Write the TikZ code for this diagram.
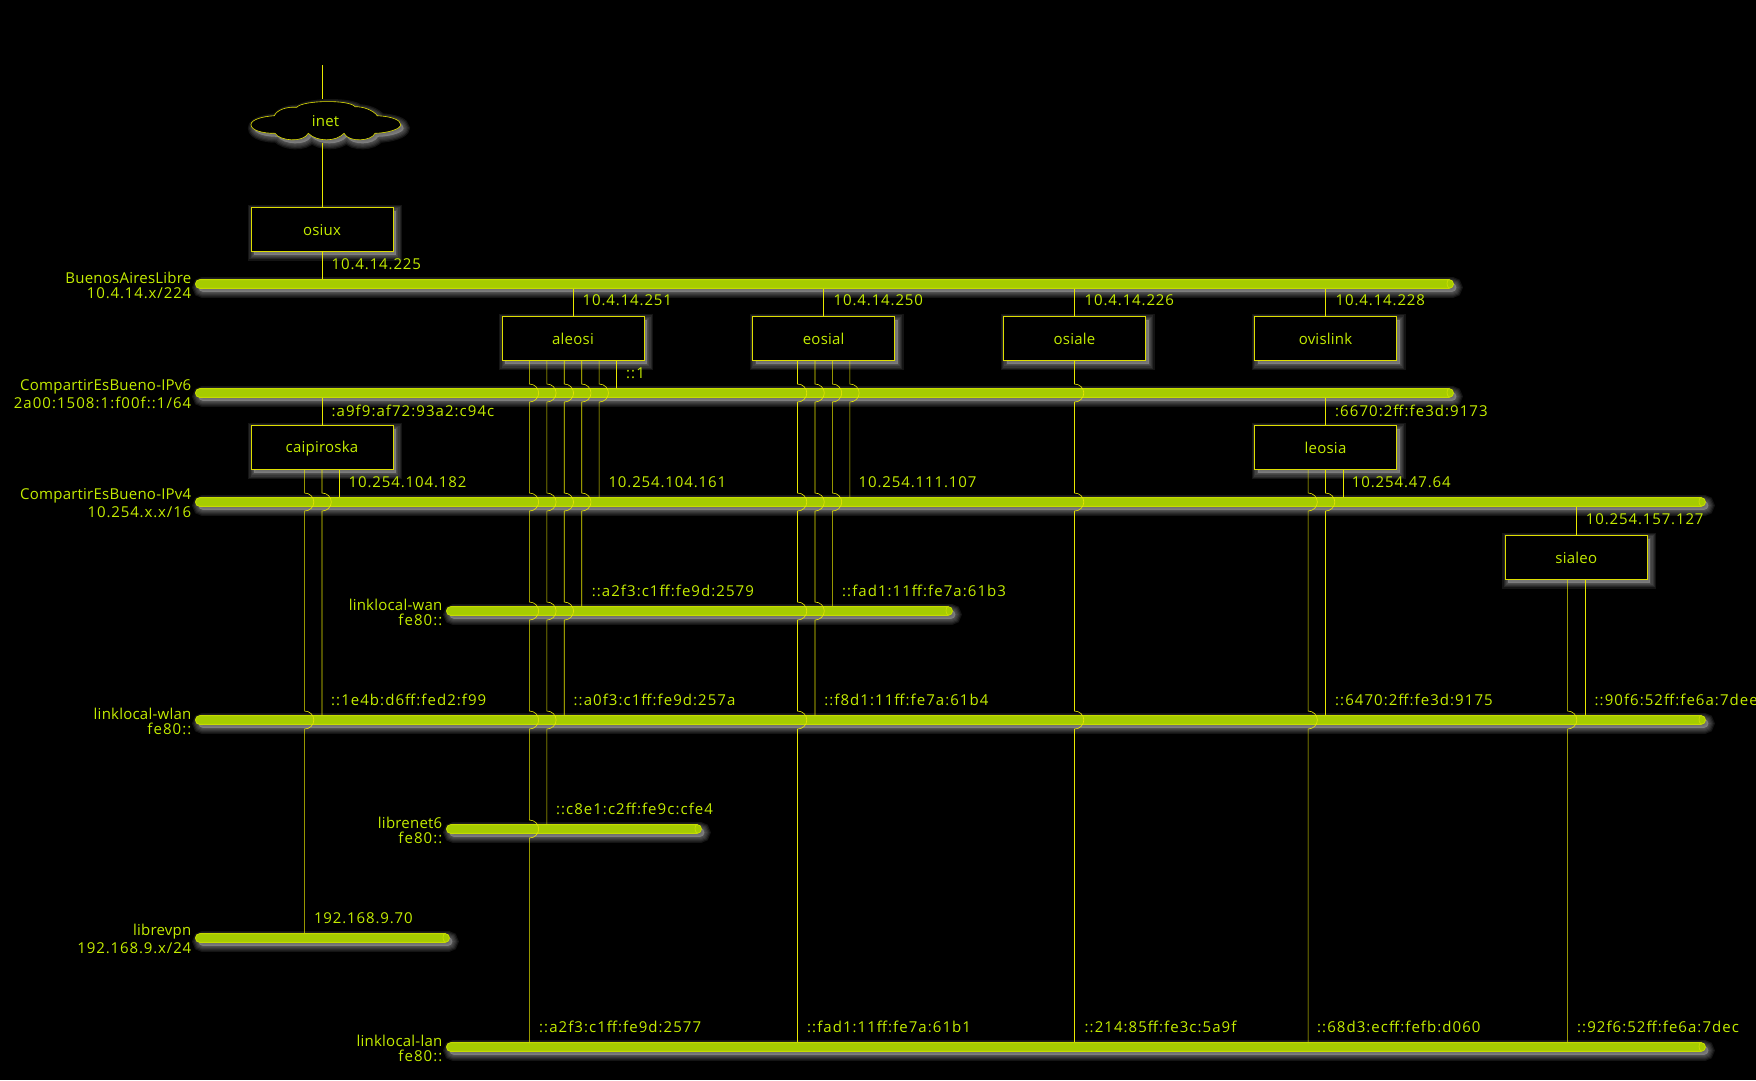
\documentclass[tikz,border=0pt]{standalone}
\usepackage{fontspec}
\setmainfont[LetterSpace=1.5]{Open Sans}
\newfontfamily\addrfont[LetterSpace=7]{Open Sans}
\newfontfamily\dotfont[LetterSpace=5.8]{Open Sans}
\usetikzlibrary{positioning}
\definecolor{barfill}{HTML}{A6CC00}
\definecolor{baredge}{HTML}{C6DC00}
\definecolor{boxedge}{HTML}{DEDE00}
\definecolor{linkcol}{HTML}{E8E800}
\definecolor{textcol}{HTML}{C4EC00}
\definecolor{shadecol}{HTML}{B8B8B8}
\begin{document}
\begin{tikzpicture}[x=1pt,y=-1pt]

\tikzstyle{halo} = [
	preaction={draw=shadecol,fill=shadecol,line width=#1,opacity=.11,transform canvas={shift={(3pt,-3.5pt)}}} ];
\tikzstyle{soft} = [halo=12pt,halo=9.5pt,halo=7pt,halo=4.5pt,halo=2pt];
\tikzstyle{block} = [
	draw=boxedge, fill=black, rectangle, soft, line width=1pt, text=textcol,
	font=\fontsize{15}{15}\selectfont, text height=14pt, text depth=2pt,
	minimum height=44pt, minimum width=142pt ];
\tikzstyle{netbar} = [
	draw=baredge, fill=barfill, rectangle, rounded corners=4.4pt, soft, line width=.9pt,
	inner sep=0pt, minimum height=8.8pt ];
\tikzstyle{netname} = [
	text=textcol, align=right, inner sep=0pt, yshift=-1pt, font=\fontsize{15}{18}\selectfont ];
\tikzstyle{addr} = [
	text=textcol, anchor=base west, inner sep=0pt, font=\fontsize{15}{15}\addrfont ];
\tikzstyle{ip} = [addr, font=\fontsize{15}{15}\dotfont];
\tikzstyle{link} = [draw=linkcol, line width=.6pt];

\def\sz{17.45pt}
% #1 name, #2 left, #3 right, #4 y, #5 text
\def\bus#1#2#3#4#5{
	\node[netbar,minimum width=#3pt-#2pt,anchor=west] (#1) at (#2,#4) {};
	\draw[baredge,line width=.8pt] ([xshift=-4.5pt]#1.north east) arc (-90:-270:2.4 and 4.4);
	\node[netname,left=3.5pt of #1] (#1name) {#5};
}
% #1 from node, #2 offset, #3 buses hopped over, #4 bus at the end
\def\wire#1#2#3#4{
	\coordinate (w) at ([xshift=#2*\sz]#1.south);
	\draw[link] (w) \foreach \hop in {#3} { -- ([yshift=9pt]w |- \hop.center) arc (-90:90:9.3 and 9) } -- (w |- #4.north);
}

\fill[black] (0,0) rectangle (1756,1080);
\useasboundingbox (0,0) rectangle (1756,1080);

\bus{bal}{195}{1453}{284}{BuenosAiresLibre\\[-3pt]{\dotfont 10.4.14.x/224}}
\bus{ipvsix}{195}{1453}{393}{CompartirEsBueno-IPv6\\{\addrfont 2a00:1508:1:f00f::1/64}}
\bus{ipvfour}{195}{1705}{502}{CompartirEsBueno-IPv4\\{\dotfont 10.254.x.x/16}}
\bus{wan}{446}{952}{611}{linklocal-wan\\[-3pt]{\addrfont fe80::}}
\bus{wlan}{195}{1705}{720}{linklocal-wlan\\[-3pt]{\addrfont fe80::}}
\bus{librenet}{446}{701}{829}{librenet6\\[-3pt]{\addrfont fe80::}}
\bus{librevpn}{195}{449}{938}{librevpn\\{\dotfont 192.168.9.x/24}}
\bus{lan}{446}{1705}{1047}{linklocal-lan\\[-3pt]{\addrfont fe80::}}

\coordinate (top) at (322,65);
\draw[draw=boxedge,fill=black,line width=.6pt,soft] (251,124.7)
	.. controls (251,119.7) and (262,116.5) .. (274.3,115.7)
	.. controls (277,110) and (286,106.5) .. (296.7,107.3)
	.. controls (303,100) and (350,99.5) .. (355,106.7)
	.. controls (363,106.5) and (373,110) .. (377.3,115.7)
	.. controls (392,116.5) and (400.7,120) .. (400.7,124.7)
	.. controls (400.7,129) and (388,133) .. (375,133.3)
	.. controls (372,141) and (349,143) .. (344,133.3)
	.. controls (336,142) and (317,142) .. (308.3,133.3)
	.. controls (303,143) and (280,141) .. (275,133.3)
	.. controls (262,133.5) and (251,130) .. (251,124.7) -- cycle;
\node[text=textcol,font=\fontsize{15}{15}\selectfont,minimum height=44pt,inner sep=0pt] (inet) at (325.6,121) {inet};

\node[block] (osiux) at (322,229) {osiux};
\node[block] (aleosi) at (573,338.5) {aleosi};
\node[block] (eosial) at (823.7,338.5) {eosial};
\node[block] (osiale) at (1074.5,338.5) {osiale};
\node[block] (ovislink) at (1325.5,338.5) {ovislink};
\node[block,text depth=3.7pt] (caipiroska) at (322,447.7) {caipiroska};
\node[block] (leosia) at (1325.5,447.7) {leosia};
\node[block] (sialeo) at (1576.3,557) {sialeo};

\draw[link] (top) -- (top |- inet.north);
\draw[link] (osiux |- inet.south) -- (osiux.north);
\draw[link] (osiux.south) -- (osiux |- bal.north);
\draw[link] (aleosi |- bal.south) -- (aleosi.north);
\draw[link] (eosial |- bal.south) -- (eosial.north);
\draw[link] (osiale |- bal.south) -- (osiale.north);
\draw[link] (ovislink |- bal.south) -- (ovislink.north);
\draw[link] (caipiroska |- ipvsix.south) -- (caipiroska.north);
\draw[link] (leosia |- ipvsix.south) -- (leosia.north);
\draw[link] (sialeo |- ipvfour.south) -- (sialeo.north);

\wire{aleosi}{-2.5}{ipvsix,ipvfour,wan,wlan,librenet}{lan}
\wire{aleosi}{-1.5}{ipvsix,ipvfour,wan,wlan}{librenet}
\wire{aleosi}{-.5}{ipvsix,ipvfour,wan}{wlan}
\wire{aleosi}{.5}{ipvsix,ipvfour}{wan}
\wire{aleosi}{1.5}{ipvsix}{ipvfour}
\draw[link] ([xshift=2.5*\sz]aleosi.south) -- ([xshift=2.5*\sz]aleosi.south |- ipvsix.north);

\wire{eosial}{-1.5}{ipvsix,ipvfour,wan,wlan}{lan}
\wire{eosial}{-.5}{ipvsix,ipvfour,wan}{wlan}
\wire{eosial}{.5}{ipvsix,ipvfour}{wan}
\wire{eosial}{1.5}{ipvsix}{ipvfour}

\wire{osiale}{0}{ipvsix,ipvfour,wlan}{lan}

\wire{caipiroska}{-1}{ipvfour,wlan}{librevpn}
\wire{caipiroska}{0}{ipvfour}{wlan}
\draw[link] ([xshift=\sz]caipiroska.south) -- ([xshift=\sz]caipiroska.south |- ipvfour.north);

\wire{leosia}{-1}{ipvfour,wlan}{lan}
\wire{leosia}{0}{ipvfour}{wlan}
\draw[link] ([xshift=\sz]leosia.south) -- ([xshift=\sz]leosia.south |- ipvfour.north);

\wire{sialeo}{-.5}{wlan}{lan}
\draw[link] ([xshift=.5*\sz]sialeo.south) -- ([xshift=.5*\sz]sialeo.south |- wlan.north);

\node[ip] (a1) at (331.5,269.7) {10.4.14.225};
\node[ip] (a2) at (582.5,305.7) {10.4.14.251};
\node[ip] (a3) at (833.5,305.7) {10.4.14.250};
\node[ip] (a4) at (1084.5,305.7) {10.4.14.226};
\node[ip] (a5) at (1335.5,305.7) {10.4.14.228};
\node[addr] (a6) at (626,378.7) {::1};
\node[addr] (a7) at (331.5,416.2) {:a9f9:af72:93a2:c94c};
\node[addr] (a8) at (1335,416.2) {:6670:2ff:fe3d:9173};
\node[ip] (a9) at (348.5,487.7) {10.254.104.182};
\node[ip] (a10) at (608.3,487.7) {10.254.104.161};
\node[ip] (a11) at (858.5,487.7) {10.254.111.107};
\node[ip] (a12) at (1351.7,487.7) {10.254.47.64};
\node[ip] (a13) at (1585.7,524.7) {10.254.157.127};
\node[addr] (a14) at (591.7,596.7) {::a2f3:c1ff:fe9d:2579};
\node[addr] (a15) at (842,596.7) {::fad1:11ff:fe7a:61b3};
\node[addr] (a16) at (331,705.7) {::1e4b:d6ff:fed2:f99};
\node[addr] (a17) at (573.5,705.7) {::a0f3:c1ff:fe9d:257a};
\node[addr] (a18) at (824.2,705.7) {::f8d1:11ff:fe7a:61b4};
\node[addr] (a19) at (1335,705.7) {::6470:2ff:fe3d:9175};
\node[addr] (a20) at (1594.5,705.7) {::90f6:52ff:fe6a:7dee};
\node[addr] (a21) at (555.8,814.7) {::c8e1:c2ff:fe9c:cfe4};
\node[ip] (a22) at (313.8,923.7) {192.168.9.70};
\node[addr] (a23) at (539,1032.7) {::a2f3:c1ff:fe9d:2577};
\node[addr] (a24) at (807,1032.7) {::fad1:11ff:fe7a:61b1};
\node[addr] (a25) at (1084.5,1032.7) {::214:85ff:fe3c:5a9f};
\node[addr] (a26) at (1317,1032.7) {::68d3:ecff:fefb:d060};
\node[addr] (a27) at (1577,1032.7) {::92f6:52ff:fe6a:7dec};

\end{tikzpicture}
\end{document}
